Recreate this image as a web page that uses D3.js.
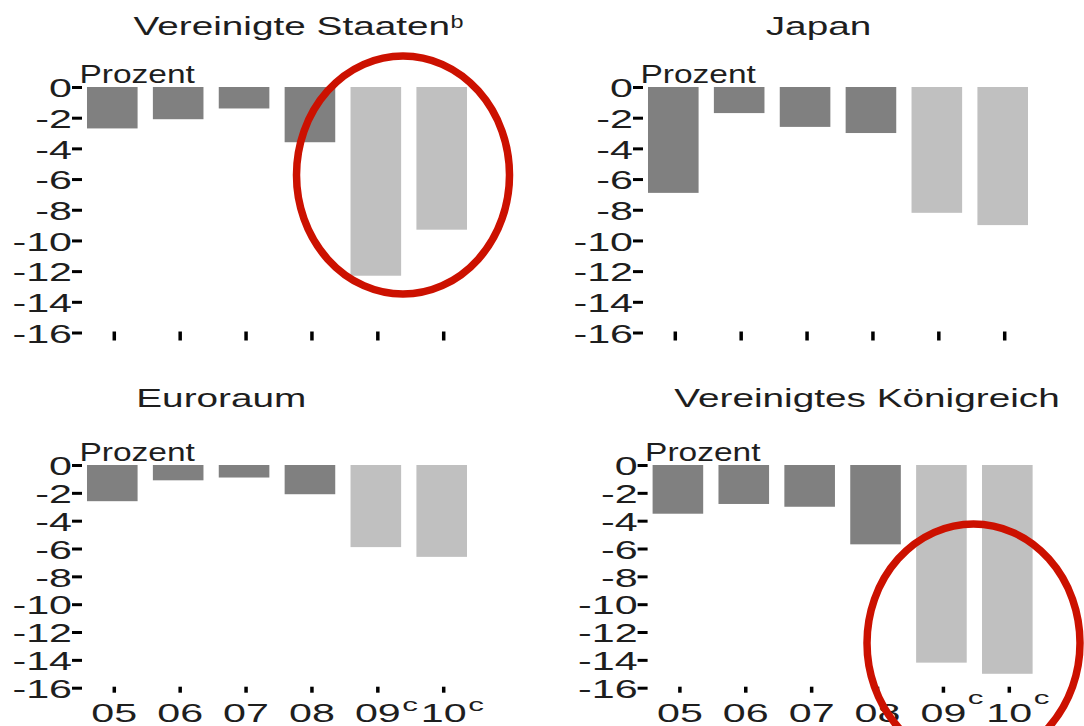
<!DOCTYPE html>
<html>
<head>
<meta charset="utf-8">
<script src="https://cdn.jsdelivr.net/npm/d3@7"></script>
<style>
  html, body { margin: 0; padding: 0; background: #fff; }
  svg { display: block; font-family: "Liberation Sans", Arial, sans-serif; }
</style>
</head>
<body>
<svg id="chart" width="1084" height="726"></svg>
<script>
// Budget balance, per cent of GDP
const years = ["05", "06", "07", "08", "09", "10"];
const yearNotes = ["", "", "", "", "c", "c"];          // c = projection
const projected = [false, false, false, false, true, true];
const usBalance = [-2.7, -2.1, -1.4, -3.6, -12.3, -9.3];
const japanBalance = [-6.9, -1.7, -2.6, -3.0, -8.2, -9.0];
const euroBalance = [-2.6, -1.1, -0.9, -2.1, -5.9, -6.6];
const ukBalance = [-3.5, -2.8, -3.0, -5.7, -14.2, -15.0];
const yTickValues = [0, -2, -4, -6, -8, -10, -12, -14, -16];
const panelTitles = ["Vereinigte Staaten", "Japan", "Euroraum", "Vereinigtes Königreich"];
const titleNotes = ["b", "", "", ""];
const unitLabel = "Prozent";

const COLOR_ACTUAL = "#808080";
const COLOR_PROJ = "#c0c0c0";
const COLOR_MARK = "#cc1100";
const TEXT = "#1e1e1e";

const FS = 25;          // base font size
const SX_TITLE = 1.55;  // horizontal stretch of the typeface
const SX_UNIT = 1.34;
const SX_NUM = 1.65;

const panels = [
  { values: usBalance,    ax: 82,    top: 87,  bottom: 332.5, titleX: 291.8, titleY: 35,    tickLen: 9, labels: false, supShift: 0,     ring: { cx: 403,   cy: 175 } },
  { values: japanBalance, ax: 643,   top: 87,  bottom: 332.5, titleX: 818.5, titleY: 35,    tickLen: 9, labels: false, supShift: 0,     ring: null },
  { values: euroBalance,  ax: 82,    top: 465, bottom: 687.7, titleX: 221.3, titleY: 406.5, tickLen: 6, labels: true,  supShift: -10.5, ring: null },
  { values: ukBalance,    ax: 647.6, top: 465, bottom: 687.7, titleX: 867,   titleY: 406.5, tickLen: 6, labels: true,  supShift: -17.5, ring: { cx: 973.5, cy: 643 } }
];

const svg = d3.select("#chart");
svg.append("rect").attr("width", 1084).attr("height", 726).attr("fill", "#fff");

const ringLayer = [];

panels.forEach((p, i) => {
  const g = svg.append("g");

  const y = d3.scaleLinear().domain([0, -16]).range([p.top, p.bottom]);
  const x = d3.scaleBand()
    .domain(years)
    .range([p.ax + 5 - 7.65, p.ax + 385 + 7.65])
    .paddingInner(0.232)
    .paddingOuter(0.116);

  // bars
  g.selectAll("rect.bar")
    .data(p.values.map((v, k) => ({ v, year: years[k], proj: projected[k] })))
    .join("rect")
    .attr("class", "bar")
    .attr("x", d => x(d.year))
    .attr("width", x.bandwidth())
    .attr("y", y(0))
    .attr("height", d => y(d.v) - y(0))
    .attr("fill", d => d.proj ? COLOR_PROJ : COLOR_ACTUAL);

  // y axis: tick marks and labels only
  const yAxis = g.append("g")
    .attr("transform", `translate(${p.ax},0)`)
    .call(d3.axisLeft(y)
      .tickValues(yTickValues)
      .tickSize(10)
      .tickPadding(0)
      .tickFormat(d => d === 0 ? "0" : "-" + Math.abs(d)));
  yAxis.select(".domain").remove();
  yAxis.selectAll(".tick line").attr("stroke", "#000").attr("stroke-width", 3);
  yAxis.selectAll(".tick text")
    .attr("fill", TEXT)
    .attr("font-size", FS)
    .attr("font-family", "Liberation Sans, Arial, sans-serif")
    .attr("x", -10 / SX_NUM)
    .attr("dy", "0.39em")
    .attr("transform", `scale(${SX_NUM},1)`);

  // x axis along the bottom of the scale
  const xAxis = g.append("g")
    .attr("transform", `translate(2,${y(-16) - 1})`)
    .call(d3.axisBottom(x)
      .tickSize(p.tickLen)
      .tickSizeOuter(0)
      .tickFormat(d => p.labels ? d : ""));
  xAxis.select(".domain").remove();
  xAxis.selectAll(".tick line").attr("stroke", "#000").attr("stroke-width", 3.5);
  if (p.labels) {
    xAxis.selectAll(".tick text")
      .attr("fill", TEXT)
      .attr("font-size", FS)
      .attr("font-family", "Liberation Sans, Arial, sans-serif")
      .attr("y", 0)
      .attr("dy", 0)
      .attr("transform", `translate(0,34.8) scale(${SX_NUM},1)`);
    xAxis.selectAll(".tick").each(function (d) {
      const k = years.indexOf(d);
      if (!yearNotes[k]) return;
      const t = d3.select(this).select("text").node();
      const half = t.getComputedTextLength() * SX_NUM / 2;
      d3.select(this).append("text")
        .attr("fill", TEXT)
        .attr("font-size", 19)
        .attr("text-anchor", "start")
        .attr("transform", `translate(${half + 1.5},${34.8 + p.supShift}) scale(${SX_NUM},1)`)
        .text(yearNotes[k]);
    });
  }

  // unit label
  g.append("text")
    .attr("fill", TEXT)
    .attr("font-size", FS)
    .attr("transform", `translate(${p.ax - 2.5},${y(0) - 4.3}) scale(${SX_UNIT},1)`)
    .text(unitLabel);

  // panel title
  const title = g.append("text")
    .attr("fill", TEXT)
    .attr("font-size", FS)
    .attr("text-anchor", "middle")
    .attr("transform", `translate(${p.titleX},${p.titleY}) scale(${SX_TITLE},1)`)
    .text(panelTitles[i]);
  if (titleNotes[i]) {
    const w = title.node().getComputedTextLength() * SX_TITLE;
    g.append("text")
      .attr("fill", TEXT)
      .attr("font-size", 18)
      .attr("transform", `translate(${p.titleX + w / 2 + 0.5},${p.titleY - 7}) scale(1.3,1)`)
      .text(titleNotes[i]);
  }

  if (p.ring) ringLayer.push(p.ring);
});

// highlight rings drawn over everything
svg.append("g")
  .selectAll("ellipse")
  .data(ringLayer)
  .join("ellipse")
  .attr("cx", d => d.cx)
  .attr("cy", d => d.cy)
  .attr("rx", 106.5)
  .attr("ry", 119)
  .attr("fill", "none")
  .attr("stroke", COLOR_MARK)
  .attr("stroke-width", 7.5);
</script>
</body>
</html>
